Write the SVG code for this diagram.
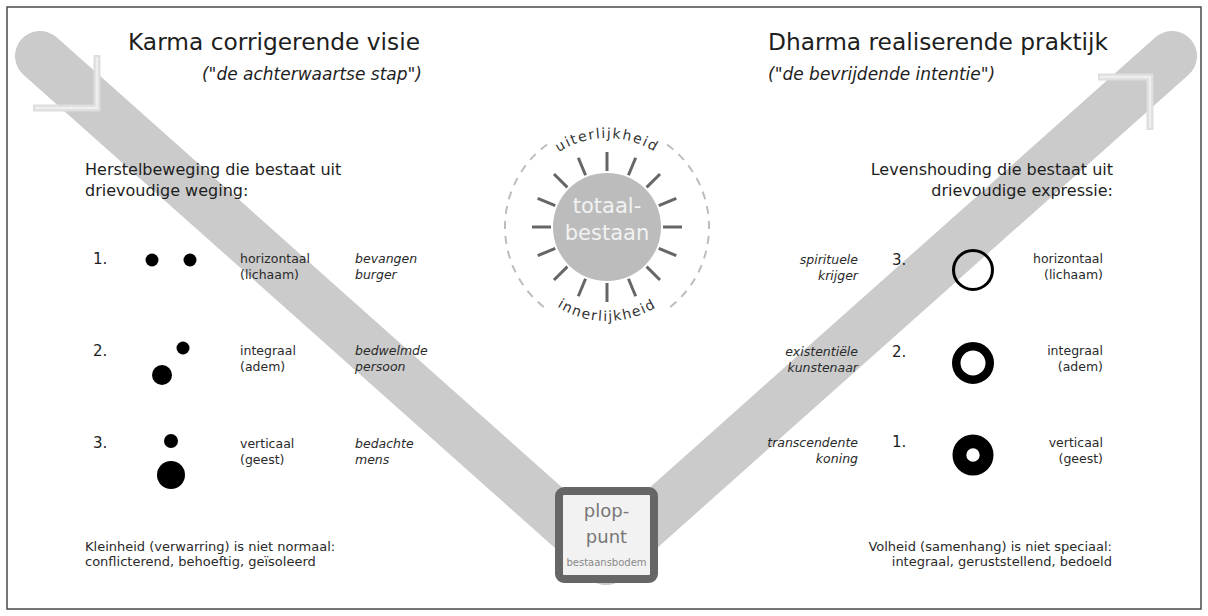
<svg xmlns="http://www.w3.org/2000/svg" xmlns:xlink="http://www.w3.org/1999/xlink" width="1208" height="616" viewBox="0 0 1208 616">
  <style>
    text { font-family: "DejaVu Sans", Verdana, sans-serif; fill: #1e1e1e; }
    .title { font-size: 23.3px; }
    .sub { font-size: 17px; font-style: italic; }
    .head { font-size: 16px; }
    .num { font-size: 15px; }
    .lbl { font-size: 12.5px; fill: #2a2a2a; }
    .role { font-size: 12.5px; font-style: italic; fill: #2a2a2a; }
    .note { font-size: 13px; fill: #2a2a2a; }
    .end { text-anchor: end; }
    .mid { text-anchor: middle; }
    .band { fill: none; stroke: #cbcbcb; stroke-width: 50; stroke-linecap: round; }
    .chev { fill: none; stroke: #dedede; stroke-width: 7; stroke-linejoin: miter; }
    .chev-hi { fill: none; stroke: #eeeeee; stroke-width: 2.5; stroke-linejoin: miter; }
    .ray { stroke: #666; stroke-width: 3; }
    .halo { fill: none; stroke: #bdbdbd; stroke-width: 2; stroke-dasharray: 8 7; }
    .arc { font-size: 14px; letter-spacing: 1.5px; fill: #333; }
    .dot { fill: #000; }
    .ring { fill: none; stroke: #000; }
  </style>
  <defs>
    <line id="ray" x1="0" y1="-56" x2="0" y2="-75" class="ray"/>
    <path id="arc-top" d="M518,227 A89,89 0 0 1 696,227"/>
    <path id="arc-bottom" d="M513,227 A94,94 0 0 0 701,227"/>
  </defs>

  <rect x="7" y="7" width="1194" height="602" fill="#fff" stroke="#4a4a4a" stroke-width="1.5"/>

  <!-- the two diagonal bands of the V, meeting at the bottom box -->
  <g id="connectors">
    <path class="band" d="M40,56 L606,560"/>
    <path class="band" d="M1172,56 L606,560"/>
    <path class="chev" d="M97,55 L97,108 L33,108"/>
    <path class="chev-hi" d="M97,57 L97,108 L35,108"/>
    <path class="chev" d="M1098,77 L1150,77 L1150,130"/>
    <path class="chev-hi" d="M1100,77 L1150,77 L1150,128"/>
  </g>

  <!-- headings -->
  <g id="left-title">
    <text class="title" x="128" y="50">Karma corrigerende visie</text>
    <text class="sub end" x="422" y="80">("de achterwaartse stap")</text>
  </g>
  <g id="right-title">
    <text class="title" x="768" y="50">Dharma realiserende praktijk</text>
    <text class="sub" x="768" y="80">("de bevrijdende intentie")</text>
  </g>

  <g id="left-heading">
    <text class="head" x="85" y="175">Herstelbeweging die bestaat uit</text>
    <text class="head" x="85" y="196">drievoudige weging:</text>
  </g>
  <g id="right-heading">
    <text class="head end" x="1113" y="175">Levenshouding die bestaat uit</text>
    <text class="head end" x="1113" y="196">drievoudige expressie:</text>
  </g>

  <!-- central sun -->
  <g id="sun">
    <path class="halo" d="M547.05,144.48 A102,102 0 0 0 547.05,309.52"/>
    <path class="halo" d="M666.95,144.48 A102,102 0 0 1 666.95,309.52"/>
    <text class="arc"><textPath xlink:href="#arc-top" startOffset="50%" text-anchor="middle">uiterlijkheid</textPath></text>
    <text class="arc"><textPath xlink:href="#arc-bottom" startOffset="50%" text-anchor="middle">innerlijkheid</textPath></text>
    <g transform="translate(607,227)">
      <use xlink:href="#ray"/>
      <use xlink:href="#ray" transform="rotate(22.5)"/>
      <use xlink:href="#ray" transform="rotate(45)"/>
      <use xlink:href="#ray" transform="rotate(67.5)"/>
      <use xlink:href="#ray" transform="rotate(90)"/>
      <use xlink:href="#ray" transform="rotate(112.5)"/>
      <use xlink:href="#ray" transform="rotate(135)"/>
      <use xlink:href="#ray" transform="rotate(157.5)"/>
      <use xlink:href="#ray" transform="rotate(180)"/>
      <use xlink:href="#ray" transform="rotate(202.5)"/>
      <use xlink:href="#ray" transform="rotate(225)"/>
      <use xlink:href="#ray" transform="rotate(247.5)"/>
      <use xlink:href="#ray" transform="rotate(270)"/>
      <use xlink:href="#ray" transform="rotate(292.5)"/>
      <use xlink:href="#ray" transform="rotate(315)"/>
      <use xlink:href="#ray" transform="rotate(337.5)"/>
      <circle r="54" fill="#bcbcbc"/>
    </g>
    <text class="mid" x="607" y="213" style="font-size:21px; fill:#f2f2f2">totaal-</text>
    <text class="mid" x="607" y="240" style="font-size:21px; fill:#f2f2f2">bestaan</text>
  </g>

  <!-- bottom box -->
  <g id="plop-punt">
    <rect x="559" y="491" width="95" height="88" rx="5" fill="#f2f2f2" stroke="#666" stroke-width="8"/>
    <text class="mid" x="606.5" y="517" style="font-size:18px; fill:#777">plop-</text>
    <text class="mid" x="606.5" y="543" style="font-size:18px; fill:#777">punt</text>
    <text class="mid" x="606.5" y="566" style="font-size:10px; fill:#888">bestaansbodem</text>
  </g>

  <!-- left column: weighing -->
  <g id="left-1">
    <text class="num" x="93" y="264">1.</text>
    <circle class="dot" cx="152" cy="260" r="6.5"/>
    <circle class="dot" cx="190" cy="260" r="6.5"/>
    <text class="lbl" x="240" y="263">horizontaal</text>
    <text class="lbl" x="240" y="279">(lichaam)</text>
    <text class="role" x="355" y="263">bevangen</text>
    <text class="role" x="355" y="279">burger</text>
  </g>
  <g id="left-2">
    <text class="num" x="93" y="356">2.</text>
    <circle class="dot" cx="183" cy="348" r="6.5"/>
    <circle class="dot" cx="162" cy="375" r="10"/>
    <text class="lbl" x="240" y="355">integraal</text>
    <text class="lbl" x="240" y="371">(adem)</text>
    <text class="role" x="355" y="355">bedwelmde</text>
    <text class="role" x="355" y="371">persoon</text>
  </g>
  <g id="left-3">
    <text class="num" x="93" y="448">3.</text>
    <circle class="dot" cx="171" cy="441" r="7"/>
    <circle class="dot" cx="171" cy="475" r="14"/>
    <text class="lbl" x="240" y="448">verticaal</text>
    <text class="lbl" x="240" y="464">(geest)</text>
    <text class="role" x="355" y="448">bedachte</text>
    <text class="role" x="355" y="464">mens</text>
  </g>

  <!-- right column: expression -->
  <g id="right-3">
    <text class="role end" x="858" y="264">spirituele</text>
    <text class="role end" x="858" y="280">krijger</text>
    <text class="num" x="892" y="265">3.</text>
    <circle class="ring" cx="973" cy="270" r="19.5" stroke-width="3"/>
    <text class="lbl end" x="1103" y="263">horizontaal</text>
    <text class="lbl end" x="1103" y="279">(lichaam)</text>
  </g>
  <g id="right-2">
    <text class="role end" x="858" y="356">existentiële</text>
    <text class="role end" x="858" y="372">kunstenaar</text>
    <text class="num" x="892" y="357">2.</text>
    <circle class="ring" cx="973" cy="363" r="16.75" stroke-width="8.5"/>
    <text class="lbl end" x="1103" y="355">integraal</text>
    <text class="lbl end" x="1103" y="371">(adem)</text>
  </g>
  <g id="right-1">
    <text class="role end" x="858" y="447">transcendente</text>
    <text class="role end" x="858" y="463">koning</text>
    <text class="num" x="892" y="447">1.</text>
    <circle class="ring" cx="973" cy="455" r="13.6" stroke-width="13.8"/>
    <text class="lbl end" x="1103" y="447">verticaal</text>
    <text class="lbl end" x="1103" y="463">(geest)</text>
  </g>

  <!-- closing notes -->
  <g id="left-note">
    <text class="note" x="85" y="551">Kleinheid (verwarring) is niet normaal:</text>
    <text class="note" x="85" y="566">conflicterend, behoeftig, geïsoleerd</text>
  </g>
  <g id="right-note">
    <text class="note end" x="1112" y="551">Volheid (samenhang) is niet speciaal:</text>
    <text class="note end" x="1112" y="566">integraal, geruststellend, bedoeld</text>
  </g>
</svg>
